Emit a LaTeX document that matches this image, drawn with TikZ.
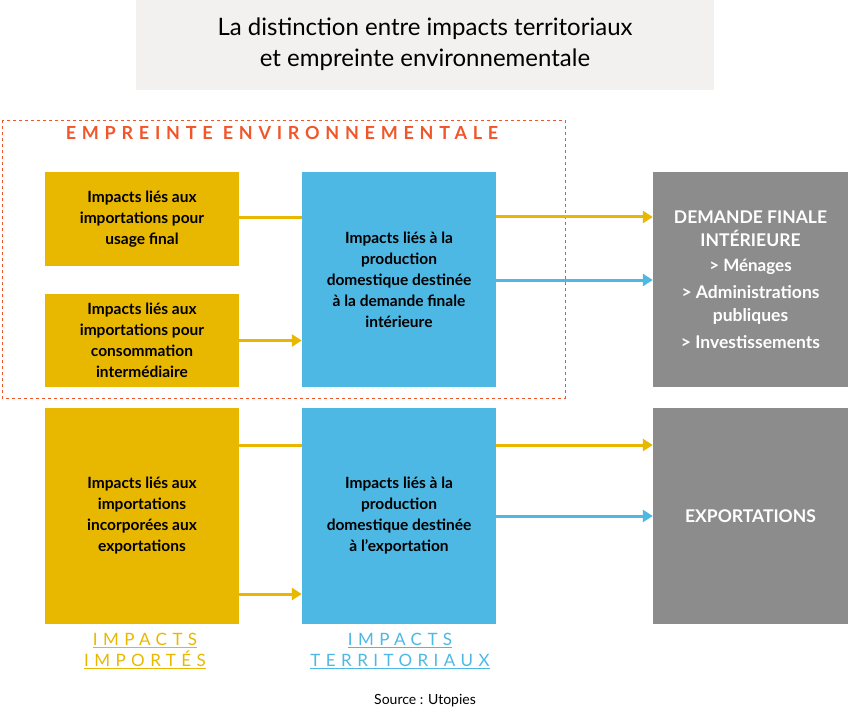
\documentclass[tikz,border=0pt]{standalone}
\usepackage{fontspec}
\setmainfont{Lato}
\usetikzlibrary{arrows.meta}
\definecolor{jaune}{HTML}{E8B800}
\definecolor{bleu}{HTML}{4DB8E4}
\definecolor{gris}{HTML}{8C8C8C}
\definecolor{rouge}{HTML}{F0562A}
\definecolor{fond}{HTML}{F3F1EF}
\newcommand{\espace}[1]{{\addfontfeature{LetterSpace=32}#1}}
\tikzset{
  boite/.style={minimum width=194pt,inner sep=0pt,align=center,font=\fontsize{15.5}{21}\selectfont\bfseries},
  grise/.style={boite,fill=gris,minimum width=195pt,text=white,font=\fontsize{17.5}{23}\selectfont\bfseries},
  lien/.style={line width=3pt},
  fleche/.style={line width=3pt,-{Triangle[length=10pt,width=12pt]}}
}
\begin{document}
\begin{tikzpicture}[x=1pt,y=-1pt]
\useasboundingbox (0,0) rectangle (850,719);
% titre
\fill[fond] (136,0) rectangle (714,90);
\node[align=center,font=\fontsize{24}{31}\selectfont] (titre) at (425,44) {La distinction entre impacts territoriaux\\et empreinte environnementale};
% empreinte
\draw[rouge,dashed,thick] (2,120) rectangle (565,398);
\node[rouge,font=\fontsize{18}{20}\selectfont\bfseries] (empreinte) at (282,133) {\espace{EMPREINTE ENVIRONNEMENTALE}};
% boites
\node[boite,fill=jaune,minimum height=94pt] (final) at (142,219) {Impacts liés aux\\importations pour\\usage final};
\node[boite,fill=jaune,minimum height=93pt] (inter) at (142,340.5) {Impacts liés aux\\importations pour\\consommation\\intermédiaire};
\node[boite,fill=jaune,minimum height=216pt] (incorp) at (142,516) {Impacts liés aux\\importations\\incorporées aux\\exportations};
\node[boite,fill=bleu,minimum height=215pt] (domint) at (399,279.5) {Impacts liés à la\\production\\domestique destinée\\à la demande finale\\intérieure};
\node[boite,fill=bleu,minimum height=216pt] (domexp) at (399,516) {Impacts liés à la\\production\\domestique destinée\\à l’exportation};
\node[grise,minimum height=215pt] (demande) at (750.5,279.5) {DEMANDE FINALE\\INTÉRIEURE\\[2pt]\fontsize{17}{22}\selectfont > Ménages\\[4pt] > Administrations\\publiques\\[4pt] > Investissements};
\node[grise,minimum height=216pt] (export) at (750.5,516) {EXPORTATIONS};
% liens
\draw[lien,jaune] (final.east |- 0,218) -- (domint.west |- 0,218);
\draw[fleche,jaune] (inter.east) -- (domint.west |- inter.east);
\draw[fleche,jaune] (domint.east |- 0,217) -- (demande.west |- 0,217);
\draw[fleche,bleu] (domint.east |- 0,280) -- (demande.west |- 0,280);
\draw[lien,jaune] (incorp.east |- 0,445) -- (domexp.west |- 0,445);
\draw[fleche,jaune] (incorp.east |- 0,594) -- (domexp.west |- 0,594);
\draw[fleche,jaune] (domexp.east |- 0,445) -- (export.west |- 0,445);
\draw[fleche,bleu] (domexp.east) -- (export.west |- domexp.east);
% legendes
\node[jaune,align=center,font=\fontsize{17}{21}\selectfont] (importes) at (145,651) {\underline{\espace{IMPACTS}}\\\underline{\espace{IMPORTÉS}}};
\node[bleu,align=center,font=\fontsize{17}{21}\selectfont] (territ) at (400,651) {\underline{\espace{IMPACTS}}\\\underline{\espace{TERRITORIAUX}}};
\node[font=\fontsize{14}{16}\selectfont] (source) at (425,701) {Source : Utopies};
\end{tikzpicture}
\end{document}
